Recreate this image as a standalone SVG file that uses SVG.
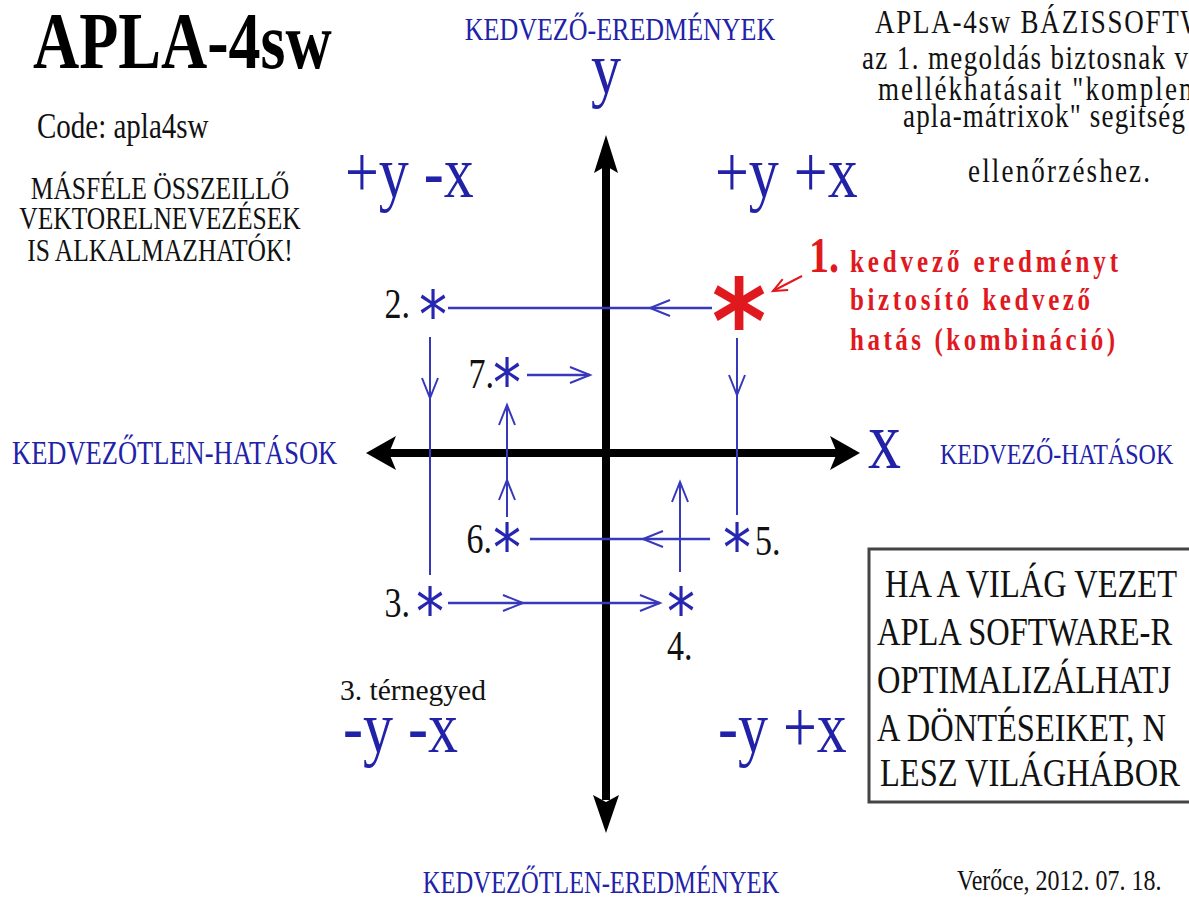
<svg xmlns="http://www.w3.org/2000/svg" width="1189" height="897" viewBox="0 0 1189 897">
<style>
.t{font-family:"Liberation Serif","Times New Roman",serif}
.blue{fill:#2222a8}
.blk{fill:#111}
.red{fill:#e0191f;font-weight:bold}
.star{font-family:"DejaVu Sans",sans-serif;text-anchor:middle;font-size:66px;fill:#2626b0}
.bigstar{font-family:"DejaVu Sans",sans-serif;text-anchor:middle;font-size:116px;font-weight:bold;fill:#e0191f}
.conn{stroke:#3838bb;fill:none}
.h{stroke-width:2.6}
.v{stroke-width:2}
.axis{stroke:#000;stroke-width:8;fill:none}
</style>
<defs>
<marker id="chev" viewBox="-22 -10 24 20" markerWidth="24" markerHeight="20" refX="0" refY="0" orient="auto" markerUnits="userSpaceOnUse" overflow="visible">
<path d="M-20,-8 L0,0 L-20,8" fill="none" stroke="#3838bb" stroke-width="2"/>
</marker>
<marker id="chevRed" viewBox="-16 -8 18 16" markerWidth="18" markerHeight="16" refX="0" refY="0" orient="auto" markerUnits="userSpaceOnUse" overflow="visible">
<path d="M-14,-6 L0,0 L-14,6" fill="none" stroke="#e0191f" stroke-width="2"/>
</marker>
</defs>
<rect width="1189" height="897" fill="#fff"/>

<g id="title">
<text class="t" font-weight="bold" font-size="64" transform="translate(33 68) scale(1 1.25)" fill="#000">APLA-4sw</text>
<text class="t blk" font-size="29" transform="translate(37 138) scale(1 1.2)">Code: apla4sw</text>
</g>

<g id="note-left" class="t blk" font-size="25.5" text-anchor="middle">
<text transform="translate(160 199) scale(1 1.25)">MÁSFÉLE ÖSSZEILLŐ</text>
<text transform="translate(160 229) scale(1 1.25)">VEKTORELNEVEZÉSEK</text>
<text transform="translate(160 261) scale(1 1.25)">IS ALKALMAZHATÓK!</text>
</g>

<g id="note-topright" class="t blk" font-size="27">
<text transform="translate(875 33) scale(1 1.25)" textLength="331" lengthAdjust="spacing">APLA-4sw BÁZISSOFTW</text>
<text transform="translate(862 69) scale(1 1.25)" textLength="326" lengthAdjust="spacing">az 1. megoldás biztosnak v</text>
<text transform="translate(878 100) scale(1 1.25)" textLength="322" lengthAdjust="spacing">mellékhatásait "komplem</text>
<text transform="translate(903 127) scale(1 1.25)" textLength="282" lengthAdjust="spacing">apla-mátrixok" segitség</text>
<text transform="translate(968 182) scale(1 1.25)" textLength="182" lengthAdjust="spacing">ellenőrzéshez.</text>
</g>

<g id="axes">
<line class="axis" x1="606" y1="166" x2="606" y2="800"/>
<polygon points="606,135 618,173 606,166 594,173" fill="#000"/>
<polygon points="606,833 619,795 606,802 593,795" fill="#000"/>
<line class="axis" x1="388" y1="453" x2="838" y2="453"/>
<polygon points="366,453 396,436 389,453 396,470" fill="#000"/>
<polygon points="860,453 830,436 837,453 830,470" fill="#000"/>
</g>

<g id="axis-labels" class="t blue">
<text font-size="26" text-anchor="middle" transform="translate(620 40) scale(1 1.25)">KEDVEZŐ-EREDMÉNYEK</text>
<text font-size="60" text-anchor="middle" transform="translate(606 93) scale(1 1.25)">y</text>
<text font-size="66" transform="translate(868 468) scale(1 1.25)">x</text>
<text font-size="26.5" transform="translate(12 464) scale(1 1.25)">KEDVEZŐTLEN-HATÁSOK</text>
<text font-size="24" transform="translate(940 464) scale(1 1.25)">KEDVEZŐ-HATÁSOK</text>
<text font-size="24.6" text-anchor="middle" transform="translate(601 893) scale(1 1.25)">KEDVEZŐTLEN-EREDMÉNYEK</text>
</g>

<g id="quadrants" class="t blue" font-size="60">
<text transform="translate(345 197) scale(1 1.25)">+y -x</text>
<text transform="translate(715 197) scale(1 1.25)">+y +x</text>
<text transform="translate(343 752) scale(1 1.25)">-y -x</text>
<text transform="translate(718 752) scale(1 1.25)">-y +x</text>
<text class="blk" font-size="25" transform="translate(340 700) scale(1 1.2)" textLength="146" lengthAdjust="spacingAndGlyphs">3. térnegyed</text>
</g>

<g id="connectors">
<polyline class="conn h" points="712,308 650,308 448,308" marker-mid="url(#chev)"/>
<polyline class="conn v" points="430,337 430,398 430,575" marker-mid="url(#chev)"/>
<polyline class="conn h" points="448,603 523,603 660,603" marker-mid="url(#chev)" marker-end="url(#chev)"/>
<polyline class="conn v" points="680,572 680,482" marker-end="url(#chev)"/>
<polyline class="conn h" points="710,539 643,539 530,539" marker-mid="url(#chev)"/>
<polyline class="conn v" points="507,517 507,480 507,405" marker-mid="url(#chev)" marker-end="url(#chev)"/>
<polyline class="conn h" points="527,375 590,375" marker-end="url(#chev)"/>
<polyline class="conn v" points="737,338 737,395 737,515" marker-mid="url(#chev)"/>
<line x1="802" y1="276" x2="773" y2="291" stroke="#e0191f" stroke-width="2" marker-end="url(#chevRed)"/>
</g>

<g id="node1">
<text class="bigstar" transform="translate(739 305) scale(0.9 1)" y="57">*</text>
<text class="t red" font-size="40" transform="translate(809 272) scale(1 1.25)">1.</text>
<text class="t red" font-size="25" transform="translate(850 272) scale(1 1.25)" textLength="268" lengthAdjust="spacing">kedvező eredményt</text>
<text class="t red" font-size="25" transform="translate(850 310) scale(1 1.25)" textLength="240" lengthAdjust="spacing">biztosító kedvező</text>
<text class="t red" font-size="25" transform="translate(850 350) scale(1 1.25)" textLength="265" lengthAdjust="spacing">hatás (kombináció)</text>
</g>
<g id="node2">
<text class="star" transform="translate(433 306) scale(0.85 1)" y="32">*</text>
<text class="t blk" font-size="34" text-anchor="end" transform="translate(410 318) scale(1 1.25)">2.</text>
</g>
<g id="node3">
<text class="star" transform="translate(430 603) scale(0.85 1)" y="32">*</text>
<text class="t blk" font-size="34" text-anchor="end" transform="translate(410 617) scale(1 1.25)">3.</text>
</g>
<g id="node4">
<text class="star" transform="translate(681 603) scale(0.85 1)" y="32">*</text>
<text class="t blk" font-size="34" transform="translate(667 660) scale(1 1.25)">4.</text>
</g>
<g id="node5">
<text class="star" transform="translate(737 539) scale(0.85 1)" y="32">*</text>
<text class="t blk" font-size="34" transform="translate(755 555) scale(1 1.25)">5.</text>
</g>
<g id="node6">
<text class="star" transform="translate(507 539) scale(0.85 1)" y="32">*</text>
<text class="t blk" font-size="34" text-anchor="end" transform="translate(492 553) scale(1 1.25)">6.</text>
</g>
<g id="node7">
<text class="star" transform="translate(507 374) scale(0.85 1)" y="32">*</text>
<text class="t blk" font-size="34" text-anchor="end" transform="translate(494 388) scale(1 1.25)">7.</text>
</g>

<g id="message-box">
<rect x="869" y="549" width="340" height="253" fill="#fff" stroke="#444" stroke-width="3"/>
<g class="t blk" font-size="32.5">
<text transform="translate(885 597) scale(1 1.25)">HA A VILÁG VEZET</text>
<text transform="translate(877 645) scale(1 1.25)">APLA SOFTWARE-R</text>
<text transform="translate(877 693) scale(1 1.25)">OPTIMALIZÁLHATJ</text>
<text transform="translate(877 741) scale(1 1.25)">A DÖNTÉSEIKET, N</text>
<text transform="translate(880 786) scale(1 1.25)">LESZ VILÁGHÁBOR</text>
</g>
</g>

<g id="footer">
<text class="t blk" font-size="24" transform="translate(957 890) scale(1 1.25)">Verőce, 2012. 07. 18.</text>
</g>
</svg>
